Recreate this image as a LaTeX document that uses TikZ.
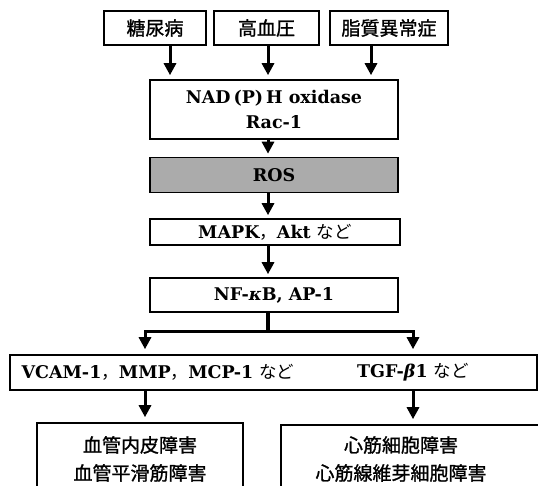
\documentclass[tikz,border=0pt]{standalone}
\usepackage{fontspec}
\setmainfont{DejaVu Serif}
\newfontfamily\jp{Noto Sans CJK JP}
\newfontfamily\jpb[FakeBold=1.2]{Noto Sans CJK JP}
\usetikzlibrary{arrows.meta}
\tikzset{
  box/.style={draw=black, line width=1.6pt, rectangle, inner sep=0pt, align=center},
  arr/.style={line width=3pt, -{Triangle[width=12pt,length=12pt]}},
  lat/.style={font=\fontsize{17.5}{25}\selectfont\bfseries, align=center},
  jpt/.style={font=\fontsize{19}{28}\selectfont\jpb, align=center},
  branch/.style={line width=3.5pt},
}
\newcommand{\jpn}[1]{{\jp\mdseries #1}}
\begin{document}
\begin{tikzpicture}[x=1pt,y=-1pt]
\useasboundingbox (0,0) rectangle (538,485);
\fill[white] (0,0) rectangle (538,485);
\clip (0,0) rectangle (538,485);

% top boxes
\node[box, jpt, minimum width=102pt, minimum height=34pt] (dm) at (155,28) {糖尿病};
\node[box, jpt, minimum width=105pt, minimum height=34pt] (ht) at (266.5,28) {高血圧};
\node[box, jpt, minimum width=118pt, minimum height=34pt] (dl) at (389,28) {脂質異常症};

% column coordinates
\coordinate (c1) at (170,0);
\coordinate (c2) at (268,0);
\coordinate (c3) at (371,0);

% chain
\node[box, lat, minimum width=248pt, minimum height=59pt] (nad) at (274,109.5) {NAD\,(P)\,H oxidase\\Rac-1};
\node[box, lat, fill=black!33, minimum width=248pt, minimum height=35pt] (ros) at (274,175) {ROS};
\node[box, lat, minimum width=250pt, minimum height=26pt] (mapk) at (275,232) {MAPK\jpn{，}Akt \jpn{など}};
\node[box, lat, minimum width=248pt, minimum height=34pt] (nf) at (274,295) {NF-\textit{κ}B, AP-1};

\draw[arr, shorten >=4pt] (dm.south -| c1) -- (nad.north -| c1);
\draw[arr, shorten >=4pt] (ht.south -| c2) -- (nad.north -| c2);
\draw[arr, shorten >=4pt] (dl.south -| c3) -- (nad.north -| c3);
\draw[arr, shorten >=3pt] (nad.south -| c2) -- (ros.north -| c2);
\draw[arr, shorten >=3pt] (ros.south -| c2) -- (mapk.north -| c2);
\draw[arr, shorten >=3pt] (mapk.south -| c2) -- (nf.north -| c2);

% effector box
\node[box, minimum width=527pt, minimum height=35pt] (vc) at (273.5,372.5) {};
\node[lat, anchor=west] (vt) at (18,372.5) {VCAM-1\jpn{，}MMP\jpn{，}MCP-1 \jpn{など}};
\node[lat] (tg) at (413,372.5) {TGF-\textit{β}1 \jpn{など}};

% branch
\coordinate (br) at (268,331);
\coordinate (bl) at (145,331);
\coordinate (bR) at (413,331);
\draw[branch] (nf.south -| br) -- (br);
\draw[arr, shorten >=5pt] (bR) -- (bl) -- (vc.north -| bl);
\draw[arr, shorten >=5pt] (bl) -- (bR) -- (vc.north -| bR);

% outcome boxes
\node[box, minimum width=206pt, minimum height=72pt] (lb) at (140,459) {};
\node[jpt] (lt) at (140,459) {血管内皮障害\\血管平滑筋障害};
\node[box, minimum width=279pt, minimum height=70pt] (rb) at (420.5,460) {};
\node[jpt] (rt) at (401,459) {心筋細胞障害\\心筋線維芽細胞障害};

\draw[arr, shorten >=5pt] (vc.south -| bl) -- (lb.north -| bl);
\draw[arr, shorten >=5pt] (vc.south -| bR) -- (rb.north -| bR);
\end{tikzpicture}
\end{document}
